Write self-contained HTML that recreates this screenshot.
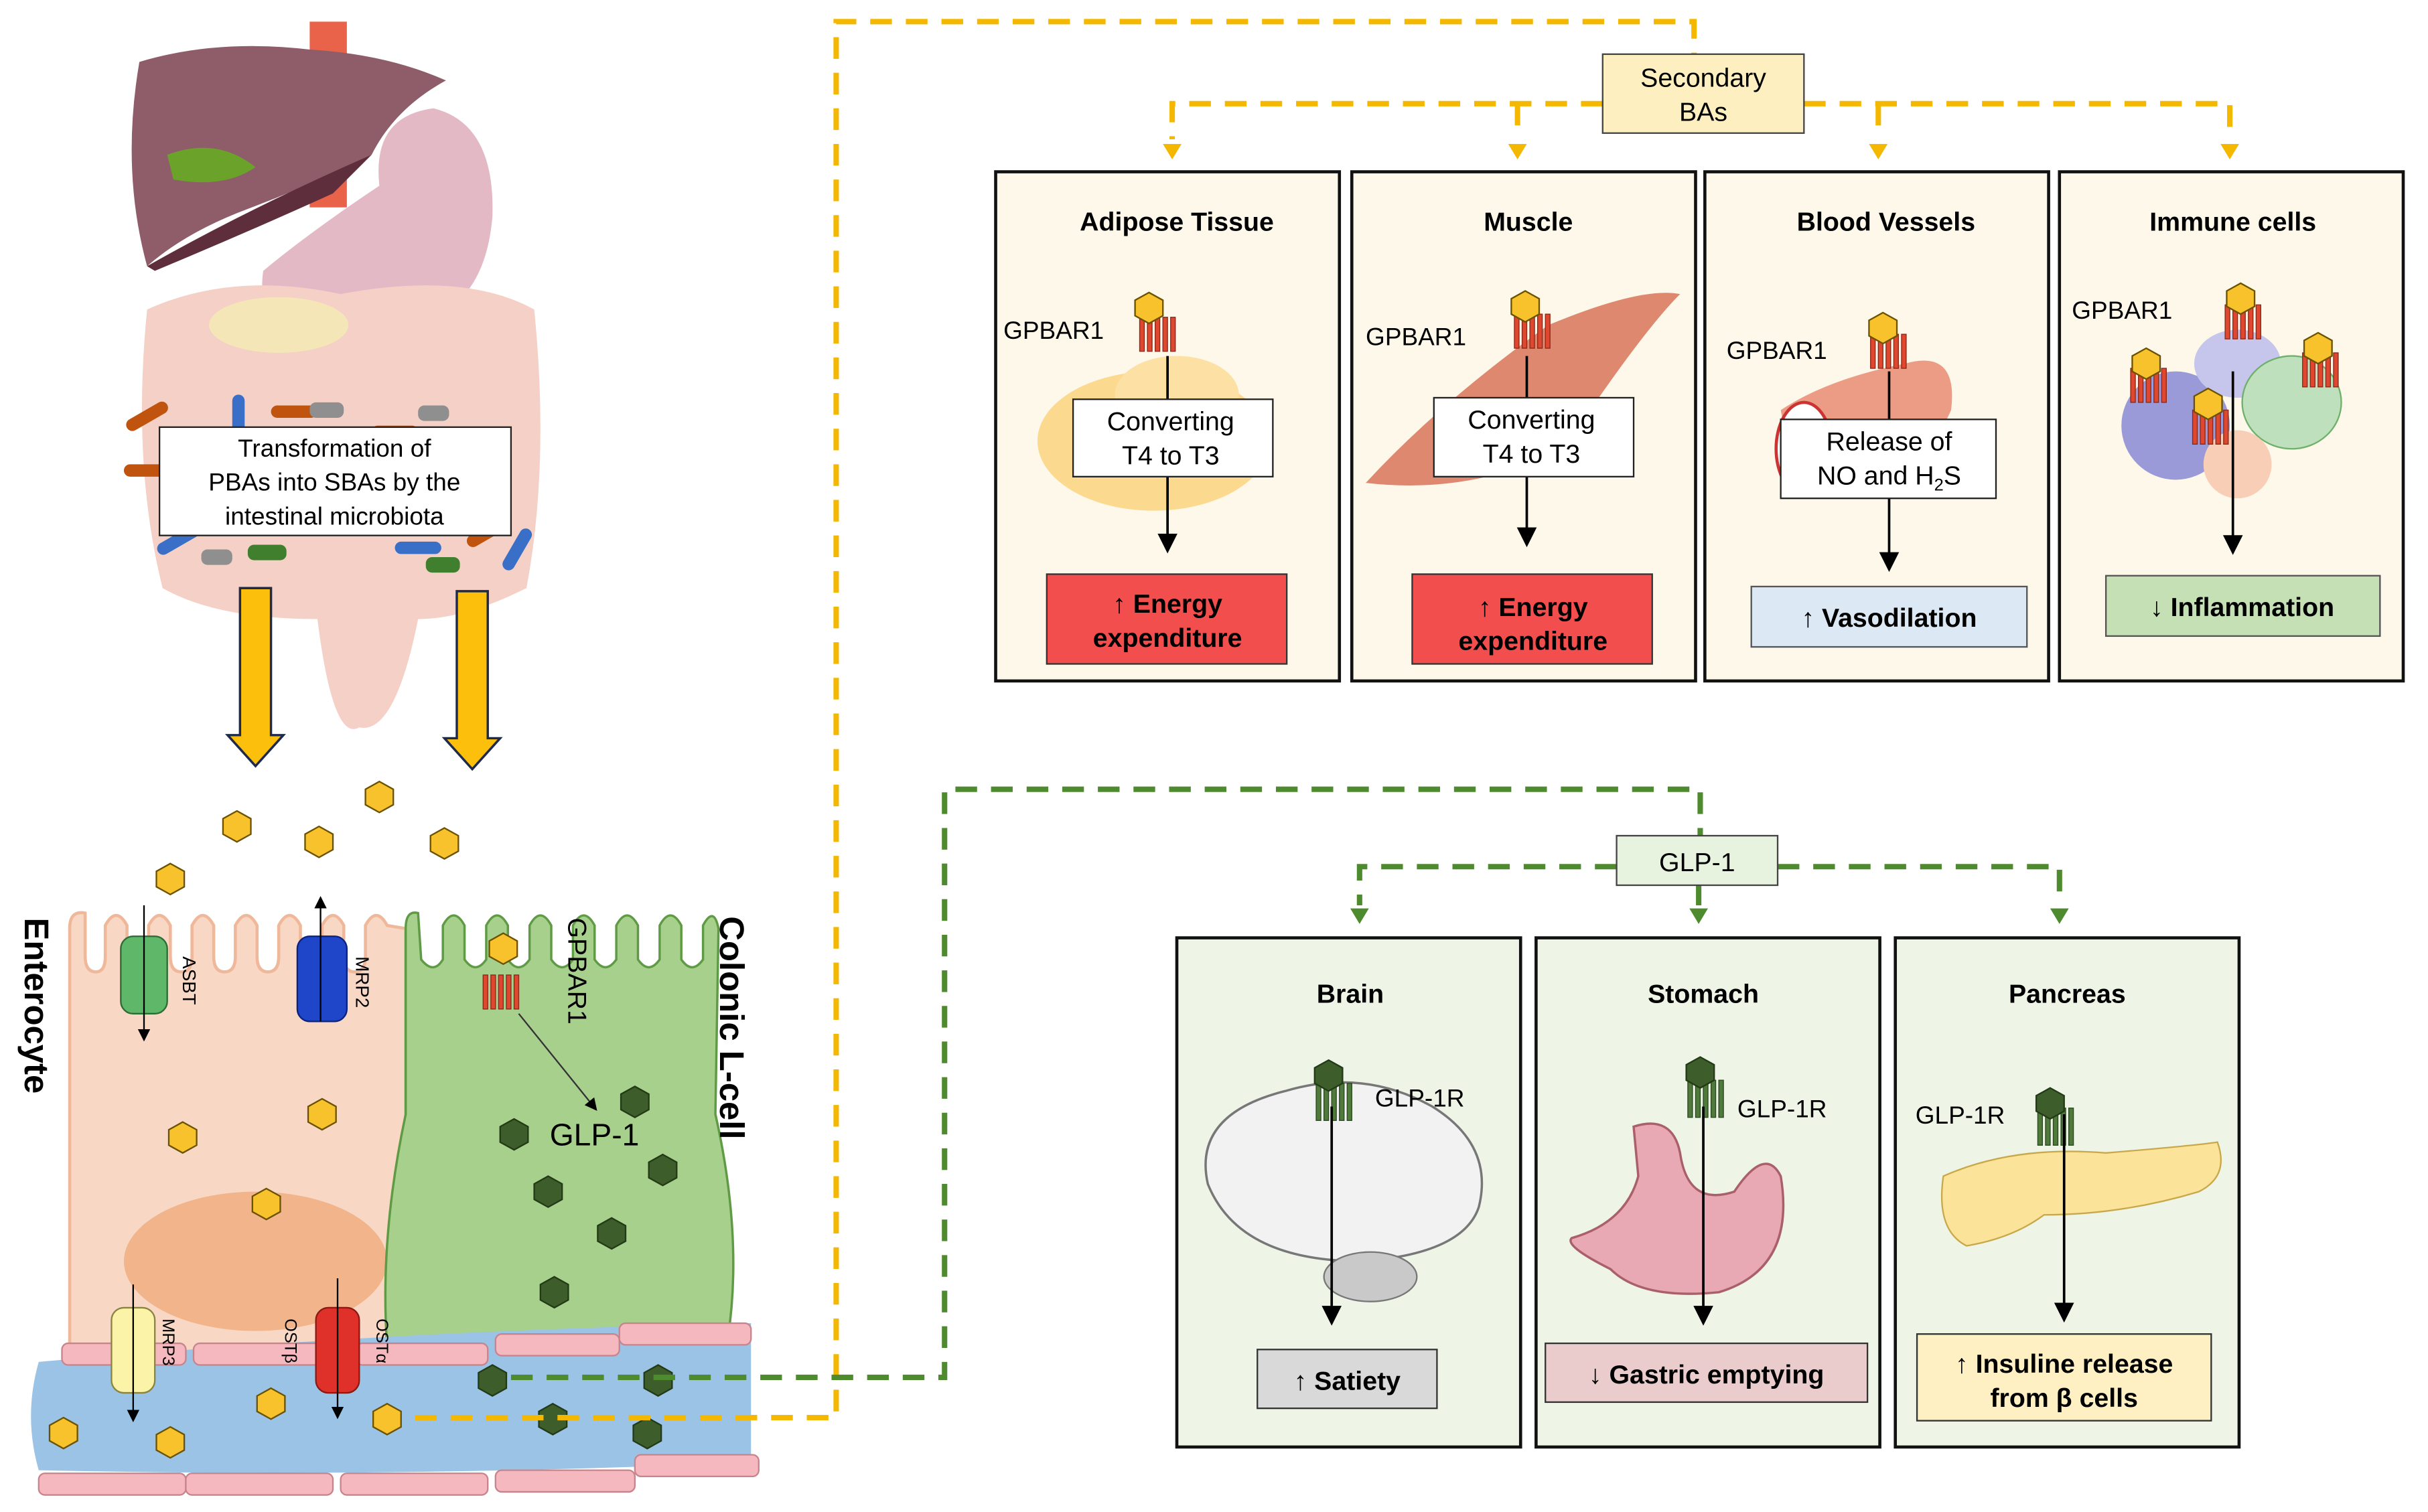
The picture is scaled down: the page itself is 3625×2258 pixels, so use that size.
<!DOCTYPE html>
<html><head><meta charset="utf-8"><style>
html,body{margin:0;padding:0;background:#fff;}
svg{display:block;}
text{font-family:"Liberation Sans",sans-serif;}
.t{font-size:17px;font-weight:bold;text-anchor:middle;}
.b{font-size:17px;text-anchor:middle;}
</style></head><body>
<svg width="3625" height="2258" viewBox="0 0 1568 977" preserveAspectRatio="none" xmlns="http://www.w3.org/2000/svg">
<defs>
<g id="hx"><polygon points="0,-10 9,-5 9,5 0,10 -9,5 -9,-5" fill="#f7c22b" stroke="#6b5200" stroke-width="1"/></g>
<g id="hg"><polygon points="0,-10 9,-5 9,5 0,10 -9,5 -9,-5" fill="#3d5e2a" stroke="#233a17" stroke-width="1"/></g>
<g id="rc"><g fill="#e0472f" stroke="#8a2a1c" stroke-width="0.6"><rect x="-12" y="0" width="3" height="22"/><rect x="-7" y="0" width="3" height="22"/><rect x="-2" y="0" width="3" height="22"/><rect x="3" y="0" width="3" height="22"/><rect x="8" y="0" width="3" height="22"/></g></g>
<g id="rg"><g fill="#4f7a3b" stroke="#2c4a20" stroke-width="0.6"><rect x="-12" y="0" width="3" height="24"/><rect x="-7" y="0" width="3" height="24"/><rect x="-2" y="0" width="3" height="24"/><rect x="3" y="0" width="3" height="24"/><rect x="8" y="0" width="3" height="24"/></g></g>
<marker id="ak" markerWidth="8" markerHeight="8" refX="7" refY="4" orient="auto"><path d="M0,0 L8,4 L0,8z" fill="#000"/></marker>
</defs>

<!-- organs -->
<rect x="200" y="14" width="24" height="120" fill="#e8634a"/>
<path d="M245,120 Q240,75 280,70 Q320,80 318,140 Q312,210 250,210 Q215,210 195,215 Q165,210 170,175 Q200,150 245,120z" fill="#e4b9c6"/>
<path d="M95,200 Q150,175 220,190 Q300,175 345,200 Q355,300 340,380 Q300,400 270,400 Q255,475 232,470 Q215,480 205,400 Q140,400 105,380 Q85,300 95,200z" fill="#f5d0c6"/>
<ellipse cx="180" cy="210" rx="45" ry="18" fill="#f5e6b8"/>
<path d="M90,40 Q140,25 200,32 Q250,35 288,52 Q255,70 240,100 Q200,120 160,135 Q120,150 95,172 Q78,110 90,40z" fill="#8e5d69"/>
<path d="M95,172 Q160,135 240,100 Q225,115 215,125 Q160,150 100,175z" fill="#5e2e3c"/>
<path d="M108,100 Q140,88 165,108 Q145,122 112,116z" fill="#6aa22a"/>
<g fill="#c0540e"><rect x="80" y="265" width="30" height="8" rx="4" transform="rotate(-30 95 269)"/><rect x="240" y="275" width="30" height="8" rx="4"/><rect x="175" y="262" width="30" height="8" rx="4"/><rect x="300" y="340" width="30" height="8" rx="4" transform="rotate(-30 315 344)"/><rect x="80" y="300" width="30" height="8" rx="4"/></g>
<g fill="#3a6fc8"><rect x="150" y="255" width="8" height="28" rx="4"/><rect x="100" y="345" width="30" height="8" rx="4" transform="rotate(-30 115 349)"/><rect x="255" y="350" width="30" height="8" rx="4"/><rect x="330" y="340" width="8" height="30" rx="4" transform="rotate(30 334 355)"/></g>
<g fill="#8f8f8f"><rect x="200" y="260" width="22" height="10" rx="4"/><rect x="270" y="262" width="20" height="10" rx="4"/><rect x="130" y="355" width="20" height="10" rx="4"/></g>
<g fill="#3f7f2e"><rect x="160" y="352" width="25" height="10" rx="4"/><rect x="275" y="360" width="22" height="10" rx="4"/></g>
<rect x="103" y="276" width="227" height="70" fill="#fff" stroke="#222" stroke-width="1"/>
<text class="b" x="216" y="295" style="font-size:16px">Transformation of</text>
<text class="b" x="216" y="317" style="font-size:16px">PBAs into SBAs by the</text>
<text class="b" x="216" y="339" style="font-size:16px">intestinal microbiota</text>
<path d="M155,380 h20 v95 h8 l-18,20 l-18,-20 h8z" fill="#fbbf0c" stroke="#1f2a4a" stroke-width="1.5"/>
<path d="M295,382 h20 v95 h8 l-18,20 l-18,-20 h8z" fill="#fbbf0c" stroke="#1f2a4a" stroke-width="1.5"/>

<use href="#hx" x="153" y="534"/><use href="#hx" x="206" y="544"/><use href="#hx" x="245" y="515"/><use href="#hx" x="287" y="545"/><use href="#hx" x="110" y="568"/>

<!-- cells -->
<path d="M45,935 L45,600 Q45,588 55,590 L55,618 Q55,628 62,628 Q68,628 68,618 L68,598 Q75,585 82,598 L82,618 Q82,628 90,628 Q96,628 96,618 L96,598 Q103,585 110,598 L110,618 Q110,628 117,628 Q124,628 124,618 L124,598 Q131,585 138,598 L138,618 Q138,628 145,628 Q152,628 152,618 L152,598 Q159,585 166,598 L166,618 Q166,628 173,628 Q180,628 180,618 L180,598 Q187,585 194,598 L194,618 Q194,628 201,628 Q208,628 208,618 L208,598 Q215,585 222,598 L222,618 Q222,628 229,628 Q236,628 236,618 L236,598 Q243,585 250,598 L262,600 L262,935z" fill="#f8d8c5" stroke="#f0b89a" stroke-width="2"/>
<ellipse cx="165" cy="815" rx="85" ry="45" fill="#f2b48a"/>
<path d="M262,600 Q262,588 270,590 L272,620 Q280,630 286,620 L286,598 Q293,585 300,598 L300,620 Q307,630 314,620 L314,598 Q321,585 328,598 L328,620 Q335,630 342,620 L342,598 Q349,585 356,598 L356,620 Q363,630 370,620 L370,598 Q377,585 384,598 L384,620 Q391,630 398,620 L398,598 Q405,585 412,598 L412,620 Q419,630 426,620 L426,598 Q433,585 440,598 L440,620 Q447,630 454,620 L454,598 Q461,585 464,600 L462,720 Q480,800 470,865 L250,870 Q245,800 262,720z" fill="#a8d08d" stroke="#5f9a45" stroke-width="1.5"/>
<rect x="78" y="605" width="30" height="50" rx="8" fill="#5fb86a" stroke="#2e6a35"/>
<rect x="192" y="605" width="32" height="55" rx="8" fill="#1f45c8" stroke="#0a2380"/>
<line x1="93" y1="585" x2="93" y2="672" stroke="#000" marker-end="url(#ak)"/>
<line x1="207" y1="660" x2="207" y2="580" stroke="#000" marker-end="url(#ak)"/>
<text x="118" y="618" transform="rotate(90 118 618)" style="font-size:12px">ASBT</text>
<text x="230" y="618" transform="rotate(90 230 618)" style="font-size:12px">MRP2</text>
<use href="#rc" x="324" y="630"/><use href="#hx" x="325" y="613"/>
<text x="367" y="593" transform="rotate(90 367 593)" style="font-size:17px">GPBAR1</text>
<line x1="335" y1="655" x2="385" y2="717" stroke="#333" marker-end="url(#ak)"/>
<text x="355" y="740" style="font-size:20px">GLP-1</text>
<text x="16" y="593" transform="rotate(90 16 593)" style="font-size:22px;font-weight:bold">Enterocyte</text>
<text x="465" y="592" transform="rotate(90 465 592)" style="font-size:22px;font-weight:bold">Colonic L-cell</text>
<use href="#hx" x="118" y="735"/><use href="#hx" x="208" y="720"/><use href="#hx" x="172" y="778"/>
<use href="#hg" x="410" y="712"/><use href="#hg" x="332" y="733"/><use href="#hg" x="428" y="756"/><use href="#hg" x="354" y="770"/><use href="#hg" x="395" y="797"/><use href="#hg" x="358" y="835"/>
<path d="M25,880 Q250,860 485,855 L485,945 Q250,955 25,950 Q15,915 25,880z" fill="#9bc3e6"/>
<g fill="#f4b8be" stroke="#c8848c" stroke-width="1"><rect x="40" y="868" width="80" height="14" rx="4"/><rect x="125" y="868" width="85" height="14" rx="4"/><rect x="230" y="868" width="85" height="14" rx="4"/><rect x="320" y="862" width="80" height="14" rx="4"/><rect x="400" y="855" width="85" height="14" rx="4"/><rect x="25" y="952" width="95" height="14" rx="4"/><rect x="120" y="952" width="95" height="14" rx="4"/><rect x="220" y="952" width="95" height="14" rx="4"/><rect x="320" y="950" width="90" height="14" rx="4"/><rect x="410" y="940" width="80" height="14" rx="4"/></g>
<rect x="72" y="845" width="28" height="55" rx="8" fill="#fbf3a8" stroke="#8a8440"/>
<rect x="204" y="845" width="28" height="55" rx="8" fill="#e0302a" stroke="#8a1a14"/>
<line x1="86" y1="830" x2="86" y2="918" stroke="#000" marker-end="url(#ak)"/>
<line x1="218" y1="826" x2="218" y2="916" stroke="#000" marker-end="url(#ak)"/>
<text x="105" y="852" transform="rotate(90 105 852)" style="font-size:11px">MRP3</text>
<text x="184" y="852" transform="rotate(90 184 852)" style="font-size:11px">OSTβ</text>
<text x="243" y="852" transform="rotate(90 243 852)" style="font-size:11px">OSTα</text>
<use href="#hx" x="41" y="926"/><use href="#hx" x="110" y="932"/><use href="#hx" x="175" y="907"/><use href="#hx" x="250" y="917"/>
<use href="#hg" x="318" y="892"/><use href="#hg" x="425" y="892"/><use href="#hg" x="357" y="917"/><use href="#hg" x="418" y="926"/>

<g stroke="#f5b800" stroke-width="3.5" stroke-dasharray="14,9" fill="none">
<path d="M268,916 H540 V14 H1094 V35"/>
<path d="M1035,67 H757 V90"/><path d="M980,67 V90"/><path d="M1165,67 H1440 V90"/><path d="M1213,67 V90"/>
</g>
<g fill="#f5b800"><path d="M751,93 h12 l-6,10z"/><path d="M974,93 h12 l-6,10z"/><path d="M1207,93 h12 l-6,10z"/><path d="M1434,93 h12 l-6,10z"/></g>
<rect x="1035" y="35" width="130" height="51" fill="#fdefc0" stroke="#444" stroke-width="1"/>
<text class="b" x="1100" y="56">Secondary</text><text class="b" x="1100" y="78">BAs</text>

<g fill="#fdf8ea" stroke="#111" stroke-width="2"><rect x="643" y="111" width="222" height="329"/><rect x="873" y="111" width="222" height="329"/><rect x="1101" y="111" width="222" height="329"/><rect x="1330" y="111" width="222" height="329"/></g>
<text class="t" x="760" y="149">Adipose Tissue</text><text class="t" x="987" y="149">Muscle</text><text class="t" x="1218" y="149">Blood Vessels</text><text class="t" x="1442" y="149">Immune cells</text>
<ellipse cx="745" cy="285" rx="75" ry="45" fill="#fbd98f"/><ellipse cx="760" cy="255" rx="40" ry="25" fill="#fce0a4"/>
<text x="648" y="219" style="font-size:16px">GPBAR1</text><use href="#rc" x="748" y="205"/><use href="#hx" x="742" y="199"/>
<path d="M882,312 Q930,260 1000,210 Q1060,185 1085,190 Q1060,215 1010,290 Q950,320 882,312z" fill="#df8870"/>
<text x="882" y="223" style="font-size:16px">GPBAR1</text><use href="#rc" x="990" y="203"/><use href="#hx" x="985" y="198"/>
<path d="M1150,265 Q1180,245 1230,235 Q1265,225 1260,265 Q1245,300 1200,310 Q1160,320 1150,265z" fill="#ec9c84"/>
<ellipse cx="1165" cy="290" rx="18" ry="30" fill="#fff" stroke="#c33" stroke-width="2"/>
<text x="1115" y="232" style="font-size:16px">GPBAR1</text><use href="#rc" x="1220" y="216"/><use href="#hx" x="1216" y="212"/>
<ellipse cx="1405" cy="275" rx="35" ry="35" fill="#9a9ad8"/><ellipse cx="1445" cy="235" rx="28" ry="22" fill="#c6c6ec"/><ellipse cx="1480" cy="260" rx="32" ry="30" fill="#bfe0bc" stroke="#6fb06a"/><ellipse cx="1445" cy="300" rx="22" ry="22" fill="#f8cfb6"/>
<text x="1338" y="206" style="font-size:16px">GPBAR1</text>
<use href="#rc" x="1449" y="197"/><use href="#hx" x="1447" y="193"/><use href="#rc" x="1388" y="238"/><use href="#hx" x="1386" y="235"/><use href="#rc" x="1499" y="228"/><use href="#hx" x="1497" y="225"/><use href="#rc" x="1428" y="265"/><use href="#hx" x="1426" y="261"/>
<g stroke="#000" stroke-width="1.6"><line x1="754" y1="230" x2="754" y2="356" marker-end="url(#ak)"/><line x1="986" y1="230" x2="986" y2="352" marker-end="url(#ak)"/><line x1="1220" y1="240" x2="1220" y2="368" marker-end="url(#ak)"/><line x1="1442" y1="240" x2="1442" y2="357" marker-end="url(#ak)"/></g>
<g fill="#fff" stroke="#222" stroke-width="1"><rect x="693" y="258" width="129" height="50"/><rect x="926" y="257" width="129" height="51"/><rect x="1150" y="271" width="139" height="51"/></g>
<text class="b" x="756" y="278">Converting</text><text class="b" x="756" y="300">T4 to T3</text>
<text class="b" x="989" y="277">Converting</text><text class="b" x="989" y="299">T4 to T3</text>
<text class="b" x="1220" y="291">Release of</text><text class="b" x="1220" y="313">NO and H<tspan style="font-size:11px" dy="4">2</tspan><tspan dy="-4">S</tspan></text>
<rect x="676" y="371" width="155" height="58" fill="#f24e4e" stroke="#333"/><text class="t" x="754" y="396">↑ Energy</text><text class="t" x="754" y="418">expenditure</text>
<rect x="912" y="371" width="155" height="58" fill="#f24e4e" stroke="#333"/><text class="t" x="990" y="398">↑ Energy</text><text class="t" x="990" y="420">expenditure</text>
<rect x="1131" y="379" width="178" height="39" fill="#dce9f5" stroke="#555"/><text class="t" x="1220" y="405">↑ Vasodilation</text>
<rect x="1360" y="372" width="177" height="39" fill="#c5e0b4" stroke="#555"/><text class="t" x="1448" y="398">↓ Inflammation</text>

<g stroke="#4e8a2e" stroke-width="3.5" stroke-dasharray="14,9" fill="none">
<path d="M330,890 H610 V510 H1098 V540"/>
<path d="M1044,560 H878 V585"/><path d="M1148,560 H1330 V585"/><path d="M1097,572 V585"/>
</g>
<g fill="#4e8a2e"><path d="M872,587 h12 l-6,10z"/><path d="M1091,587 h12 l-6,10z"/><path d="M1324,587 h12 l-6,10z"/></g>
<rect x="1044" y="540" width="104" height="32" fill="#e8f3df" stroke="#444"/><text class="b" x="1096" y="563">GLP-1</text>

<g fill="#eef5e6" stroke="#111" stroke-width="2"><rect x="760" y="606" width="222" height="329"/><rect x="992" y="606" width="222" height="329"/><rect x="1224" y="606" width="222" height="329"/></g>
<text class="t" x="872" y="648">Brain</text><text class="t" x="1100" y="648">Stomach</text><text class="t" x="1335" y="648">Pancreas</text>
<path d="M780,765 Q770,720 830,705 Q880,690 925,715 Q965,740 955,780 Q945,810 880,815 Q800,815 780,765z" fill="#f2f2f2" stroke="#777" stroke-width="1.5"/>
<ellipse cx="885" cy="825" rx="30" ry="16" fill="#c9c9c9" stroke="#777"/>
<use href="#rg" x="862" y="700"/><use href="#hg" x="858" y="695"/><text x="888" y="715" style="font-size:16px">GLP-1R</text>
<path d="M1055,728 Q1080,720 1085,745 Q1090,780 1120,770 Q1140,740 1150,760 Q1160,820 1110,835 Q1060,840 1040,820 Q1010,805 1015,800 Q1050,790 1058,760z" fill="#e9a9b4" stroke="#a9606a" stroke-width="1.5"/>
<use href="#rg" x="1102" y="698"/><use href="#hg" x="1098" y="693"/><text x="1122" y="722" style="font-size:16px">GLP-1R</text>
<path d="M1255,760 Q1300,740 1360,745 Q1420,740 1432,738 Q1440,760 1420,770 Q1370,785 1320,785 Q1300,800 1270,805 Q1250,795 1255,760z" fill="#fbe49a" stroke="#c8a84a"/>
<use href="#rg" x="1328" y="716"/><use href="#hg" x="1324" y="713"/><text x="1237" y="726" style="font-size:16px">GLP-1R</text>
<g stroke="#000" stroke-width="1.6"><line x1="860" y1="715" x2="860" y2="855" marker-end="url(#ak)"/><line x1="1100" y1="715" x2="1100" y2="855" marker-end="url(#ak)"/><line x1="1333" y1="720" x2="1333" y2="853" marker-end="url(#ak)"/></g>
<rect x="812" y="872" width="116" height="38" fill="#d9d9d9" stroke="#333"/><text class="t" x="870" y="898">↑ Satiety</text>
<rect x="998" y="868" width="208" height="38" fill="#eacccc" stroke="#333"/><text class="t" x="1102" y="894">↓ Gastric emptying</text>
<rect x="1238" y="862" width="190" height="56" fill="#fff0c4" stroke="#333"/><text class="t" x="1333" y="887">↑ Insuline release</text><text class="t" x="1333" y="909">from β cells</text>
</svg>
</body></html>
